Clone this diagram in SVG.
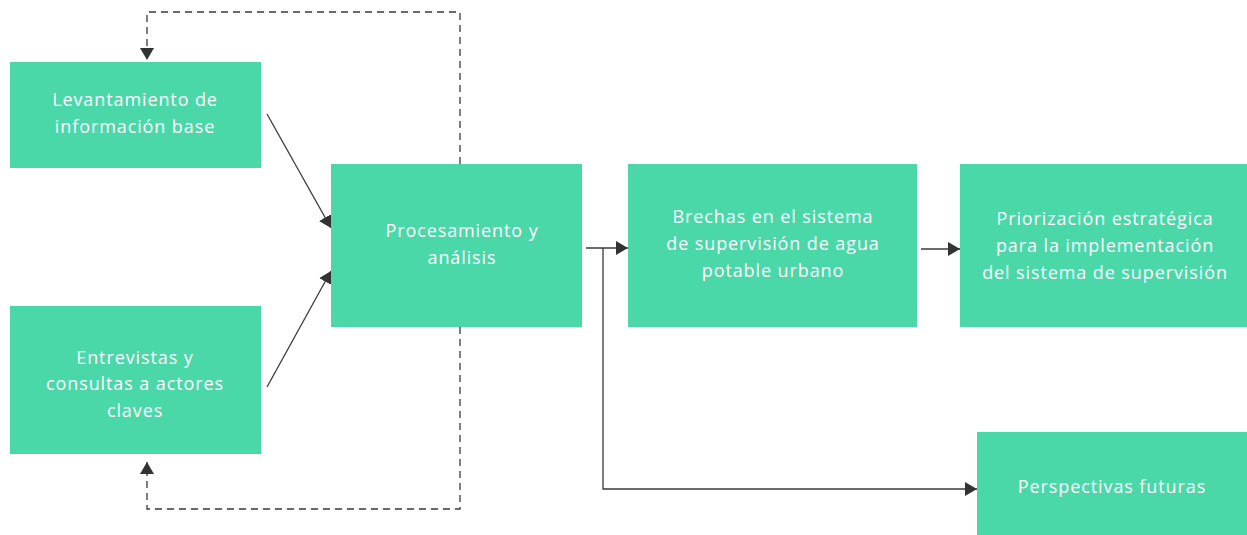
<svg xmlns="http://www.w3.org/2000/svg" width="1247" height="535" viewBox="0 0 1247 535">
<defs>
<style>
.box{fill:#4AD8A8;}
.t{font-family:"Open Sans","Liberation Sans",sans-serif;font-size:18px;letter-spacing:0.9px;font-weight:500;fill:#ffffff;text-anchor:middle;}
.c{fill:none;stroke:#3a3a3a;stroke-width:1.3;}
.d{fill:none;stroke:#3a3a3a;stroke-width:1.3;stroke-dasharray:7 5;}
</style>
<marker id="ah" markerUnits="userSpaceOnUse" markerWidth="14" markerHeight="14" refX="12" refY="7" orient="auto">
<path d="M0,0 L12,7 L0,14 Z" fill="#333"/>
</marker>
</defs>
<rect width="1247" height="535" fill="#ffffff"/>
<g id="connectors">
<path class="d" d="M460,164 V12 H147 V60" marker-end="url(#ah)"/>
<path class="d" d="M460,327 V509 H147 V462" marker-end="url(#ah)"/>
<path class="c" d="M267,114 L331,228" marker-end="url(#ah)"/>
<path class="c" d="M267,387 L331,271" marker-end="url(#ah)"/>
<path class="c" d="M586,248 H628" marker-end="url(#ah)"/>
<path class="c" d="M603,248 V489 H977" marker-end="url(#ah)"/>
<path class="c" d="M921,249 H960" marker-end="url(#ah)"/>
</g>
<g id="n1">
<rect class="box" x="10" y="62" width="251" height="106"/>
<text class="t" x="135" y="106">Levantamiento de</text>
<text class="t" x="135" y="133">información base</text>
</g>
<g id="n2">
<rect class="box" x="10" y="306" width="251" height="148"/>
<text class="t" x="135" y="364">Entrevistas y</text>
<text class="t" x="135" y="390">consultas a actores</text>
<text class="t" x="135" y="417">claves</text>
</g>
<g id="n3">
<rect class="box" x="331" y="164" width="251" height="163"/>
<text class="t" x="462" y="237">Procesamiento y</text>
<text class="t" x="462" y="264">análisis</text>
</g>
<g id="n4">
<rect class="box" x="628" y="164" width="289" height="163"/>
<text class="t" x="773" y="223">Brechas en el sistema</text>
<text class="t" x="773" y="250">de supervisión de agua</text>
<text class="t" x="773" y="277">potable urbano</text>
</g>
<g id="n5">
<rect class="box" x="960" y="164" width="287" height="163"/>
<text class="t" x="1105" y="225">Priorización estratégica</text>
<text class="t" x="1105" y="252">para la implementación</text>
<text class="t" x="1105" y="279">del sistema de supervisión</text>
</g>
<g id="n6">
<rect class="box" x="977" y="432" width="270" height="103"/>
<text class="t" x="1112" y="493">Perspectivas futuras</text>
</g>
</svg>
